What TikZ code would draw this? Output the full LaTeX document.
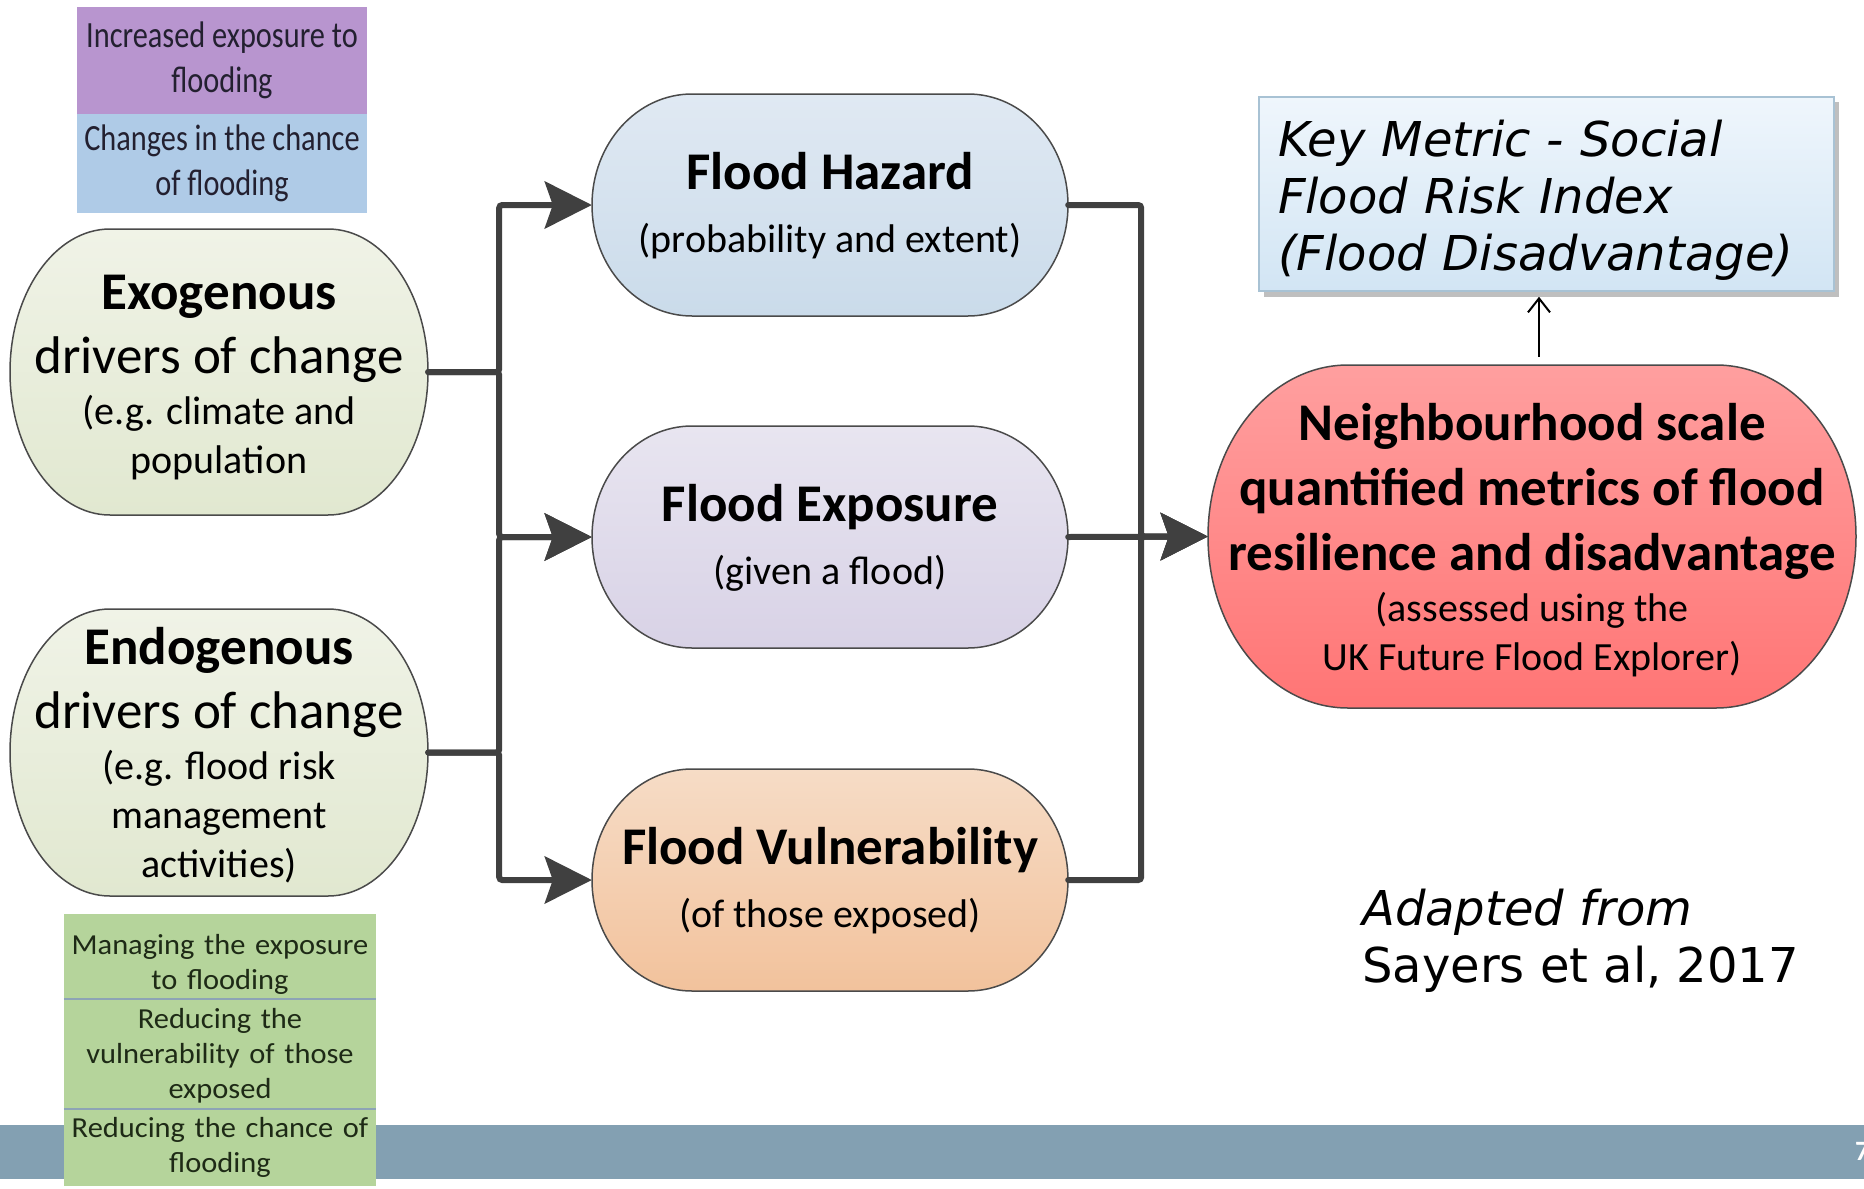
\documentclass[tikz,border=0pt]{standalone}
\usepackage{fontspec}
\setmainfont{Carlito}
\newfontfamily\verdfont{DejaVu Sans}
\newfontfamily\narrowfont[FakeStretch=0.82]{Carlito}
\newfontfamily\wideboxfont[FakeStretch=1.05]{Carlito}
\usetikzlibrary{arrows.meta}

\definecolor{linegrey}{HTML}{404040}
\definecolor{edgegrey}{HTML}{4A4A4A}
\definecolor{exotop}{HTML}{F0F3E7}
\definecolor{exobot}{HTML}{E1E8D0}
\definecolor{haztop}{HTML}{E0E9F3}
\definecolor{hazbot}{HTML}{CADBEA}
\definecolor{exptop}{HTML}{E8E5F0}
\definecolor{expbot}{HTML}{D8D2E6}
\definecolor{vultop}{HTML}{F6DCC6}
\definecolor{vulbot}{HTML}{F2C29C}
\definecolor{neitop}{HTML}{FF9F9F}
\definecolor{neibot}{HTML}{FF7575}
\definecolor{keytop}{HTML}{EFF6FC}
\definecolor{keybot}{HTML}{D2E5F4}
\definecolor{keyedge}{HTML}{A8C2D4}
\definecolor{tagpurple}{HTML}{B895CF}
\definecolor{tagblue}{HTML}{AFCBE7}
\definecolor{taggreen}{HTML}{B5D49B}
\definecolor{tagline}{HTML}{8DA4B5}
\definecolor{tagink}{HTML}{232030}
\definecolor{greenink}{HTML}{1E2A16}
\definecolor{barblue}{HTML}{83A0B2}

% fonts used inside the rounded nodes
\newcommand\capfont{\fontsize{40}{49}\selectfont\lineskiplimit=-100pt\relax}
\newcommand\bigbold{\fontsize{53}{64}\selectfont\bfseries}
\newcommand\bigreg{\fontsize{53}{64}\selectfont}
% invisible strut that raises the height of a first text line
\newcommand\topstrut[1]{\rule{0pt}{#1}}

% rounded "terminator" outline: options, cx, cy, width, height, cap radius
\newcommand\capsule[6]{%
  \path[#1] ({#2-#4/2+#6},{#3-#5/2}) -- ({#2+#4/2-#6},{#3-#5/2})
    arc[start angle=-90,end angle=90,x radius=#6,y radius={#5/2}]
    -- ({#2-#4/2+#6},{#3+#5/2})
    arc[start angle=90,end angle=270,x radius=#6,y radius={#5/2}] -- cycle;}

\tikzset{
  outline/.style 2 args={draw=edgegrey, line width=1.5pt, top color=#1, bottom color=#2},
  capnode/.style={inner sep=0pt, draw=none},
  captext/.style={inner sep=0pt, align=center, font=\capfont, text=black},
  conn/.style={draw=linegrey, line width=6pt, line cap=round, rounded corners=3pt},
  bigtip/.style={-{Stealth[length=47pt,width=47pt,inset=8pt]}},
  tagbox/.style={inner sep=0pt, align=center, text=tagink,
    font=\narrowfont\fontsize{37}{45}\selectfont},
  greenbox/.style={fill=taggreen, inner xsep=0pt, inner ysep=0pt, align=center, text=greenink,
    minimum width=312pt, text width=312pt, font=\wideboxfont\fontsize{29}{35}\selectfont},
  keybox/.style={draw=keyedge, line width=1.5pt, top color=keytop, bottom color=keybot,
    minimum width=575pt, minimum height=194pt, text width=537pt,
    inner xsep=19pt, inner ysep=0pt, align=left,
    font=\verdfont\itshape\fontsize{48}{57}\selectfont},
}

\begin{document}
\begin{tikzpicture}[x=1pt,y=-1pt]
\useasboundingbox (0,0) rectangle (1864,1189);
\clip (0,0) rectangle (1864,1189);
\fill[white] (0,0) rectangle (1864,1189);

% footer band and page number
\fill[barblue] (0,1125) rectangle (1864,1179);
\node[anchor=base west, inner sep=0pt, text=white, font=\fontsize{28}{34}\selectfont\bfseries] (pagenum) at (1855,1160) {7};

% legend tags, top left
\node[tagbox, fill=tagpurple, minimum width=290pt, minimum height=107pt] (tagexp) at (222,60.5) {Increased exposure to\\flooding};
\node[tagbox, fill=tagblue, minimum width=290pt, minimum height=99pt] (tagchance) at (222,163.5) {Changes in the chance\\of flooding};

% legend tags, bottom left
\node[greenbox, minimum height=85pt] (tagmanage) at (220,956.5) {\topstrut{36pt}Managing the exposure\\to flooding};
\node[greenbox, minimum height=110pt] (tagreduce) at (220,1054) {\topstrut{24pt}Reducing the\\vulnerability of those\\exposed};
\node[greenbox, minimum height=77pt] (tagchancered) at (220,1147.5) {Reducing the chance of\\flooding};
\draw[tagline, line width=1.5pt] (tagmanage.south west) -- (tagmanage.south east);
\draw[tagline, line width=1.5pt] (tagreduce.south west) -- (tagreduce.south east);

% drivers
\capsule{outline={exotop}{exobot}}{219}{372}{418}{286}{100}
\node[capnode, minimum width=418pt, minimum height=286pt,
  label={[captext, name=exotext, yshift=-6pt]center:{{\bigbold Exogenous}\\[15pt]{\bigreg drivers of change}\\[2pt](e.g. climate and\\population}}] (exo) at (219,372) {};
\capsule{outline={exotop}{exobot}}{219}{752.5}{418}{287}{100}
\node[capnode, minimum width=418pt, minimum height=287pt,
  label={[captext, name=endotext, yshift=-3pt]center:{{\bigbold Endogenous}\\[15pt]{\bigreg drivers of change}\\[2pt](e.g. flood risk\\management\\activities)}}] (endo) at (219,752.5) {};

% risk components
\capsule{outline={haztop}{hazbot}}{830}{205}{476}{222}{100}
\node[capnode, minimum width=476pt, minimum height=222pt,
  label={[captext, name=haztext, yshift=-1pt]center:{{\bigbold Flood Hazard}\\[14pt](probability and extent)}}] (haz) at (830,205) {};
\capsule{outline={exptop}{expbot}}{830}{537}{476}{222}{100}
\node[capnode, minimum width=476pt, minimum height=222pt,
  label={[captext, name=exptext, yshift=-1pt]center:{{\bigbold Flood Exposure}\\[14pt](given a flood)}}] (exp) at (830,537) {};
\capsule{outline={vultop}{vulbot}}{830}{880}{476}{222}{100}
\node[capnode, minimum width=476pt, minimum height=222pt,
  label={[captext, name=vultext, yshift=-1pt]center:{{\bigbold Flood Vulnerability}\\[14pt](of those exposed)}}] (vul) at (830,880) {};

% outcome
\capsule{outline={neitop}{neibot}}{1532}{536.5}{648}{343}{140}
\node[capnode, minimum width=648pt, minimum height=343pt,
  label={[captext, name=neightext, yshift=-4pt]center:{{\bigbold Neighbourhood scale}\\[16pt]{\bigbold quantified metrics of flood}\\[16pt]{\bigbold resilience and disadvantage}\\[2pt](assessed using the\\UK Future Flood Explorer)}}] (neigh) at (1532,536.5) {};

% key metric box with its shadow
\fill[black!45, opacity=0.55] (1264,102) rectangle (1839,297);
\node[keybox] (key) at (1546.5,194) {\topstrut{48pt}Key Metric - Social\\Flood Risk Index\\(Flood Disadvantage)};

% source note
\node[anchor=north west, inner sep=0pt, align=left, font=\verdfont\fontsize{48}{57}\selectfont] (source) at (1362,889)
  {{\itshape Adapted from}\\Sayers et al, 2017};

% connectors: drivers to components
\draw[conn, bigtip] (exo.east) -- ++(71,0) |- (haz.west);
\draw[conn, bigtip] (exo.east) -- ++(71,0) |- (exp.west);
\draw[conn, bigtip] (endo.east) -- ++(71,0) |- (exp.west);
\draw[conn, bigtip] (endo.east) -- ++(71,0) |- (vul.west);

% connectors: components to outcome
\draw[conn, bigtip] (haz.east) -- ++(73,0) |- (neigh.west);
\draw[conn, bigtip] (vul.east) -- ++(73,0) |- (neigh.west);
\draw[conn, bigtip] (exp.east) -- (neigh.west);

% outcome to key metric
\draw[-{Straight Barb[length=14pt,width=22pt]}, line width=2pt, shorten <=8pt, shorten >=5pt]
  ([xshift=7pt]neigh.north) -- ([xshift=7pt]neigh.north |- key.south);
\end{tikzpicture}
\end{document}
